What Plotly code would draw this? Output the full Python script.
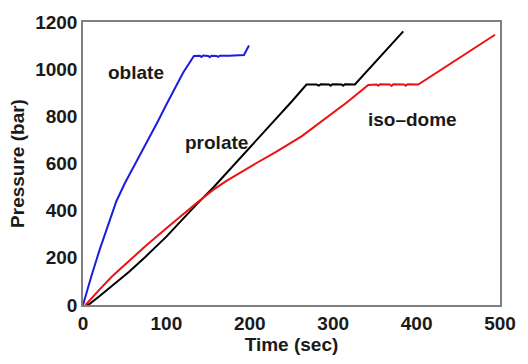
import plotly.graph_objects as go

# oblate (blue)
oblate_t = [0, 5, 10, 20, 30, 40, 50, 60, 70, 80, 90, 100, 110, 120, 133,
            140, 142, 144, 150, 152, 154, 160, 162, 164, 175, 186, 193, 196, 199]
oblate_p = [0, 62, 122, 235, 340, 440, 515, 580, 645, 712, 780, 850, 918, 985, 1056,
            1057, 1052, 1058, 1056, 1051, 1057, 1056, 1052, 1057, 1057, 1058, 1060, 1080, 1100]

# prolate (black)
prolate_t = [5, 8, 20, 35, 55, 75, 100, 114, 137, 156, 164, 203, 230, 250, 268,
             280, 283, 285, 295, 297, 299, 310, 312, 314, 326, 340, 360, 384]
prolate_p = [0, 5, 38, 82, 140, 205, 290, 343, 430, 497, 528, 678, 785, 862, 935,
             935, 930, 936, 935, 930, 936, 935, 930, 936, 935, 990, 1070, 1160]

# iso-dome (red)
iso_t = [3, 10, 20, 35, 55, 75, 100, 114, 137, 156, 172, 207, 231, 262, 290, 317, 342,
         352, 354, 356, 368, 370, 372, 385, 387, 389, 402, 430, 460, 494]
iso_p = [0, 28, 66, 122, 188, 250, 325, 368, 435, 488, 526, 600, 648, 715, 790, 861, 933,
         935, 930, 936, 935, 929, 936, 935, 930, 936, 935, 1000, 1070, 1146]

x_ticks = [0, 100, 200, 300, 400, 500]
y_ticks = [0, 200, 400, 600, 800, 1000, 1200]

labels = ["oblate", "prolate", "iso–dome"]
label_t = [64, 160, 395]
label_p = [987, 687, 787]

FONT = "Liberation Sans, Arial, sans-serif"
TXT = "#1a1a1a"

fig = go.Figure()
fig.add_trace(go.Scatter(x=oblate_t, y=oblate_p, mode="lines",
                         line=dict(color="#1c1ce0", width=2)))
fig.add_trace(go.Scatter(x=prolate_t, y=prolate_p, mode="lines",
                         line=dict(color="#000000", width=2)))
fig.add_trace(go.Scatter(x=iso_t, y=iso_p, mode="lines",
                         line=dict(color="#ee1111", width=2)))

for txt, xt, yp in zip(labels, label_t, label_p):
    fig.add_annotation(x=xt, y=yp, text="<b>%s</b>" % txt, showarrow=False,
                       font=dict(family=FONT, size=19, color=TXT))

axis_common = dict(showgrid=False, zeroline=False, showline=True, mirror=True,
                   linecolor="#808080", linewidth=1.5, ticks="",
                   tickfont=dict(family=FONT, size=19, color=TXT))

fig.update_xaxes(range=[0, 500], tickvals=x_ticks,
                 ticktext=["<b>%d</b>" % v for v in x_ticks],
                 title=dict(text="<b>Time (sec)</b>", standoff=4,
                            font=dict(family=FONT, size=19, color=TXT)),
                 **axis_common)
fig.update_yaxes(range=[0, 1200], tickvals=y_ticks,
                 ticktext=["<b>%d</b>" % v for v in y_ticks],
                 title=dict(text="<b>Pressure (bar)</b>", standoff=6,
                            font=dict(family=FONT, size=19, color=TXT)),
                 **axis_common)

fig.update_layout(width=528, height=364, showlegend=False,
                  margin=dict(l=83, r=18, t=17, b=59),
                  paper_bgcolor="white", plot_bgcolor="white")

fig.write_html("out.html")
